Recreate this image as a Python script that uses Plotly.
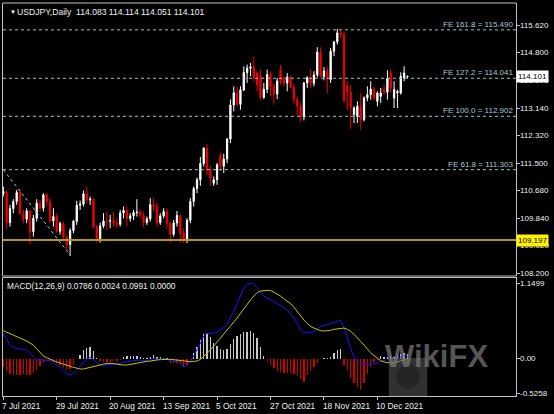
import pandas as pd
import plotly.graph_objects as go

# ---------------- data ----------------
dates = [d.strftime("%Y-%m-%d") for d in pd.bdate_range("2021-07-07", "2021-12-23")]

open_ = [110.58,110.63,109.72,110.14,110.35,110.62,109.98,109.82,110.07,109.45,
         109.85,110.30,110.15,110.55,110.35,109.77,109.90,109.46,109.69,109.29,
         109.06,109.48,109.76,110.24,110.27,110.58,110.40,110.42,109.59,109.24,
         109.62,109.77,109.76,109.78,109.70,109.67,110.01,110.08,109.84,109.92,
         110.02,110.03,109.94,109.72,109.83,110.26,110.20,109.72,109.92,110.05,
         109.70,109.37,109.71,109.93,109.40,109.22,109.79,110.35,110.74,111.00,
         111.49,111.95,111.29,110.90,111.00,111.75,111.41,111.62,112.22,113.24,
         113.61,113.26,113.69,114.21,114.34,114.38,114.20,114.10,113.47,113.71,
         114.15,113.80,113.57,114.30,114.05,113.90,114.08,113.78,113.40,113.21,
         112.88,113.90,114.06,113.89,114.14,114.82,114.09,114.26,114.00,114.85,
         115.13,115.40,115.36,113.80,113.62,112.95,112.90,113.20,112.80,113.45,
         113.55,113.72,113.35,113.50,113.70,113.62,114.20,113.45,113.60,113.60,
         114.05,114.083]
high = [110.80,110.69,110.25,110.42,110.70,110.72,110.10,110.15,110.10,109.95,
        110.42,110.40,110.60,110.60,110.45,110.15,110.00,109.75,109.75,109.35,
        109.55,109.80,110.37,110.38,110.68,110.80,110.50,110.45,109.65,109.72,
        110.00,110.05,109.95,110.05,109.85,110.10,110.20,110.20,110.00,110.10,
        110.42,110.10,110.05,109.90,110.45,110.45,110.30,110.00,110.15,110.15,
        109.75,109.80,110.07,109.95,109.55,109.85,110.45,110.80,111.07,111.68,
        111.97,112.08,111.42,111.10,111.50,111.80,111.78,112.25,113.41,113.80,
        113.80,113.80,114.40,114.45,114.50,114.70,114.25,114.30,113.90,114.30,
        114.25,113.90,114.05,114.44,114.10,114.20,114.12,113.88,113.50,113.30,
        113.93,114.10,114.30,114.25,114.97,114.97,114.38,114.38,114.95,115.16,
        115.52,115.50,115.45,113.95,113.84,113.20,113.35,113.60,113.50,113.80,
        113.95,113.80,113.65,113.75,113.85,114.28,114.30,113.95,113.70,114.22,
        114.40,114.114]
low = [110.50,109.53,109.60,110.00,110.25,109.95,109.70,109.70,109.07,109.30,
       109.75,110.05,110.05,110.22,109.70,109.60,109.40,109.36,109.20,108.90,
       108.72,109.40,109.65,110.10,110.20,110.30,110.25,109.55,109.12,109.12,
       109.55,109.50,109.55,109.60,109.55,109.60,109.85,109.60,109.75,109.80,
       109.90,109.85,109.58,109.65,109.75,110.05,109.60,109.65,109.85,109.55,
       109.12,109.30,109.60,109.12,109.11,109.10,109.70,110.20,110.60,110.82,
       111.40,111.14,110.82,110.82,110.85,111.25,111.20,111.50,112.10,113.05,
       113.20,113.10,113.65,113.90,114.10,113.95,113.65,113.40,113.42,113.60,
       113.50,113.25,113.42,113.85,113.80,113.65,113.75,113.28,112.95,112.73,
       112.78,113.75,113.75,113.80,114.07,114.08,113.98,113.59,113.90,114.70,
       115.05,115.25,113.30,113.08,112.53,112.70,112.70,112.50,112.75,113.35,
       113.40,113.38,113.20,113.30,113.55,113.40,113.60,113.15,113.15,113.55,
       113.95,114.051]
close = [110.65,109.72,110.14,110.35,110.62,109.98,109.82,110.07,109.45,109.85,
         110.30,110.15,110.55,110.35,109.77,109.90,109.46,109.69,109.29,109.06,
         109.48,109.76,110.24,110.27,110.58,110.40,110.42,109.59,109.24,109.62,
         109.77,109.76,109.78,109.70,109.67,110.01,110.08,109.84,109.92,110.02,
         110.03,109.94,109.72,109.83,110.26,110.20,109.72,109.92,110.05,109.70,
         109.37,109.71,109.93,109.40,109.22,109.79,110.35,110.74,111.00,111.49,
         111.95,111.29,111.05,111.00,111.45,111.41,111.62,112.22,113.24,113.61,
         113.26,113.69,114.21,114.34,114.38,114.05,113.85,113.47,113.71,114.15,
         113.80,113.57,113.96,113.95,113.90,114.08,113.78,113.40,113.21,112.88,
         113.90,114.06,113.89,114.14,114.82,114.09,114.26,114.00,114.85,115.13,
         115.40,115.36,113.38,113.62,113.17,113.15,113.20,112.80,113.45,113.55,
         113.72,113.46,113.60,113.60,113.62,114.04,113.75,113.70,113.65,114.10,
         114.20,114.101]

macd_main = [0.386,0.285,0.208,0.173,0.157,0.147,0.142,0.132,0.081,0.030,
             -0.020,-0.020,-0.020,-0.020,-0.030,-0.061,-0.097,-0.132,-0.183,-0.234,
             -0.249,-0.224,-0.173,-0.112,-0.046,0.000,0.020,-0.010,-0.071,-0.097,
             -0.102,-0.097,-0.097,-0.091,-0.081,-0.071,-0.056,-0.051,-0.041,-0.030,
             -0.020,-0.025,-0.036,-0.030,-0.010,0.000,-0.005,0.000,0.000,-0.005,
             -0.036,-0.041,-0.036,-0.071,-0.122,-0.102,-0.046,0.041,0.132,0.234,
             0.345,0.386,0.386,0.386,0.406,0.437,0.478,0.528,0.615,0.716,
             0.843,0.970,1.072,1.133,1.148,1.138,1.087,1.021,0.955,0.919,
             0.894,0.869,0.843,0.813,0.782,0.742,0.691,0.625,0.538,0.437,
             0.396,0.396,0.396,0.411,0.457,0.488,0.508,0.518,0.538,0.554,
             0.574,0.589,0.478,0.310,0.157,0.030,-0.036,-0.071,-0.086,-0.086,
             -0.086,-0.076,-0.061,-0.041,-0.025,-0.010,0.000,0.000,0.015,0.025,
             0.041,0.051]
macd_signal = [0.427,0.406,0.386,0.361,0.340,0.320,0.295,0.269,0.239,0.208,
               0.152,0.091,0.041,0.015,-0.010,-0.036,-0.051,-0.066,-0.086,-0.102,
               -0.117,-0.132,-0.147,-0.157,-0.157,-0.147,-0.132,-0.122,-0.112,-0.097,
               -0.081,-0.071,-0.071,-0.076,-0.086,-0.091,-0.097,-0.097,-0.086,-0.076,
               -0.066,-0.056,-0.046,-0.041,-0.036,-0.025,-0.020,-0.015,-0.010,-0.010,
               -0.010,-0.015,-0.020,-0.030,-0.041,-0.046,-0.046,-0.041,-0.036,-0.010,
               0.030,0.081,0.132,0.193,0.254,0.310,0.371,0.432,0.488,0.549,
               0.620,0.691,0.762,0.833,0.894,0.955,1.006,1.031,1.041,1.041,
               1.041,1.016,0.991,0.955,0.914,0.879,0.838,0.787,0.716,0.650,
               0.589,0.538,0.493,0.467,0.442,0.427,0.422,0.422,0.432,0.447,
               0.457,0.467,0.467,0.447,0.417,0.371,0.325,0.264,0.208,0.147,
               0.091,0.046,0.005,-0.030,-0.051,-0.061,-0.066,-0.061,-0.051,-0.036,
               -0.020,-0.005]
macd_hist = [-0.122,-0.183,-0.234,-0.249,-0.254,-0.249,-0.239,-0.254,-0.244,-0.224,
             -0.173,-0.112,-0.061,-0.036,-0.036,-0.046,-0.071,-0.097,-0.147,-0.173,
             -0.163,-0.097,-0.010,0.056,0.132,0.168,0.183,0.117,0.005,-0.041,
             -0.051,-0.046,-0.046,-0.041,-0.036,-0.020,0.030,0.041,0.041,0.046,
             0.041,0.030,0.015,0.010,0.030,0.051,0.030,0.020,0.015,0.005,
             -0.061,-0.071,-0.061,-0.086,-0.122,-0.097,-0.020,0.091,0.183,0.284,
             0.376,0.386,0.325,0.244,0.193,0.142,0.132,0.147,0.218,0.295,
             0.345,0.376,0.401,0.411,0.422,0.396,0.310,0.183,0.041,-0.046,
             -0.097,-0.147,-0.183,-0.208,-0.224,-0.224,-0.224,-0.234,-0.264,-0.315,
             -0.351,-0.249,-0.183,-0.122,-0.061,-0.005,0.005,0.005,0.030,0.081,
             0.132,0.142,-0.097,-0.173,-0.300,-0.376,-0.427,-0.478,-0.376,-0.234,
             -0.122,-0.046,-0.020,0.041,0.030,0.020,0.041,0.030,0.056,0.071,
             0.081,0.071]

fe_levels = [115.490, 114.041, 112.902, 111.303]
fe_labels = ["FE 161.8 = 115.490", "FE 127.2 = 114.041", "FE 100.0 = 112.902", "FE 61.8 = 111.303"]
support_level = 109.197
trend_dates = ["2021-07-07", "2021-08-04"]
trend_prices = [111.303, 108.75]

price_ticks = [115.620, 114.800, 113.970, 113.140, 112.320, 111.500, 110.680, 109.840, 109.020, 108.200]
macd_ticks = [1.1499, 0.0, -0.5258]
macd_tick_text = ["1.1499", "0.00", "-0.5258"]
date_tick_labels = ["7 Jul 2021", "29 Jul 2021", "20 Aug 2021", "13 Sep 2021",
                    "5 Oct 2021", "27 Oct 2021", "18 Nov 2021", "10 Dec 2021"]
date_tick_dates = ["2021-07-07", "2021-07-29", "2021-08-20", "2021-09-13",
                   "2021-10-05", "2021-10-27", "2021-11-18", "2021-12-10"]

title_text = "USDJPY,Daily  114.083 114.114 114.051 114.101"
macd_text = "MACD(12,26,9) 0.0786 0.0024 0.0991 0.0000"
last_price = 114.101

# ---------------- figure ----------------
idx = list(range(len(dates)))
pos = {d: i for i, d in enumerate(dates)}

FONT = "Liberation Sans, Arial, sans-serif"
AX = "#C0C0C0"
FE_COL = "#9CC2C6"
TXT = "#F0F0F0"

fig = go.Figure()

fig.add_trace(go.Candlestick(
    x=idx, open=open_, high=high, low=low, close=close,
    increasing=dict(line=dict(color="#FFFFFF", width=1), fillcolor="#FFFFFF"),
    decreasing=dict(line=dict(color="#F00000", width=1), fillcolor="#F00000"),
    whiskerwidth=0, hoverinfo="skip", showlegend=False, xaxis="x", yaxis="y"))

fig.add_trace(go.Scatter(x=[pos[d] for d in trend_dates], y=trend_prices, mode="lines",
                         line=dict(color=FE_COL, width=1, dash="dot"),
                         hoverinfo="skip", showlegend=False, xaxis="x", yaxis="y"))

hist_colors = ["#C8C8C8" if v >= 0 else "#D00000" for v in macd_hist]
fig.add_trace(go.Bar(x=idx, y=macd_hist, marker=dict(color=hist_colors, line=dict(width=0)),
                     width=0.4, hoverinfo="skip", showlegend=False, xaxis="x", yaxis="y2"))
fig.add_trace(go.Scatter(x=idx, y=macd_main, mode="lines", line=dict(color="#1414FF", width=1),
                         hoverinfo="skip", showlegend=False, xaxis="x", yaxis="y2"))
fig.add_trace(go.Scatter(x=idx, y=macd_signal, mode="lines", line=dict(color="#C8C400", width=1),
                         hoverinfo="skip", showlegend=False, xaxis="x", yaxis="y2"))

shapes = []
for lv in fe_levels:
    shapes.append(dict(type="line", xref="paper", x0=0, x1=1, yref="y", y0=lv, y1=lv,
                       line=dict(color=FE_COL, width=1, dash="dot")))
shapes.append(dict(type="line", xref="paper", x0=0, x1=1, yref="y", y0=support_level, y1=support_level,
                   line=dict(color="#B89A00", width=2)))
main_bottom = 0.3053
shapes.append(dict(type="line", xref="paper", yref="paper", x0=0, x1=1, y0=1, y1=1,
                   line=dict(color=AX, width=1)))
shapes.append(dict(type="line", xref="paper", yref="paper", x0=0, x1=1, y0=main_bottom, y1=main_bottom,
                   line=dict(color=AX, width=1)))
# watermark logo
shapes.append(dict(type="rect", xref="paper", yref="paper", x0=0.752, x1=0.827, y0=0.0, y1=0.097,
                   fillcolor="rgba(90,90,90,0.55)", line=dict(width=0), layer="above"))
shapes.append(dict(type="circle", xref="paper", yref="paper", x0=0.766, x1=0.813, y0=0.018, y1=0.08,
                   fillcolor="rgba(30,30,30,0.6)", line=dict(width=0), layer="above"))

ann = []
for lv, lab in zip(fe_levels, fe_labels):
    ann.append(dict(xref="paper", x=1, xanchor="right", xshift=-1, yref="y", y=lv,
                    yanchor="bottom", yshift=-1, text=lab, showarrow=False,
                    font=dict(family=FONT, size=8, color="#A8C8D4")))
for v in price_ticks:
    ann.append(dict(xref="paper", x=1, xanchor="left", xshift=2, yref="y", y=v,
                    text=f"{v:.3f}", showarrow=False,
                    font=dict(family=FONT, size=8, color=TXT)))
for v, t in zip(macd_ticks, macd_tick_text):
    ann.append(dict(xref="paper", x=1, xanchor="left", xshift=2, yref="y2", y=v,
                    text=t, showarrow=False,
                    font=dict(family=FONT, size=8, color=TXT)))
ann.append(dict(xref="paper", x=1, xanchor="left", xshift=0, yref="y", y=last_price,
                text=f"{last_price:.3f}", showarrow=False, bgcolor="#FFFFFF", borderpad=1,
                font=dict(family=FONT, size=8, color="#000000")))
ann.append(dict(xref="paper", x=1, xanchor="left", xshift=0, yref="y", y=support_level,
                text=f"{support_level:.3f}", showarrow=False, bgcolor="#FFF200", borderpad=1,
                font=dict(family=FONT, size=8, color="#000000")))
ann.append(dict(xref="paper", x=0, xanchor="left", xshift=5, yref="paper", y=1, yanchor="top",
                yshift=-4, text="\u25BC", showarrow=False,
                font=dict(family=FONT, size=6, color="#FFFFFF")))
ann.append(dict(xref="paper", x=0, xanchor="left", xshift=12, yref="paper", y=1, yanchor="top",
                yshift=-2, text=title_text, showarrow=False,
                font=dict(family=FONT, size=8.6, color=TXT)))
ann.append(dict(xref="paper", x=0, xanchor="left", xshift=2, yref="paper", y=0.3003, yanchor="top",
                yshift=-1, text=macd_text, showarrow=False,
                font=dict(family=FONT, size=8.3, color=TXT)))
for d, lab in zip(date_tick_dates, date_tick_labels):
    ann.append(dict(xref="x", x=pos[d], xanchor="left", xshift=-3, yref="paper", y=0, yanchor="top",
                    yshift=-3, text=lab, showarrow=False,
                    font=dict(family=FONT, size=8.3, color=TXT)))
ann.append(dict(xref="paper", x=0.949, yref="paper", y=0.05, text="<b>WikiFX</b>", showarrow=False,
                font=dict(family=FONT, size=31, color="rgba(125,125,125,0.7)")))

fig.update_layout(
    width=554, height=414,
    margin=dict(l=3, r=38, t=3, b=18, pad=0),
    paper_bgcolor="#000000", plot_bgcolor="#000000",
    showlegend=False, bargap=0, boxgap=0.45, hovermode=False,
    shapes=shapes, annotations=ann,
    xaxis=dict(range=[-0.09, 153.5], anchor="y2", showgrid=False, zeroline=False,
               showticklabels=False, ticks="outside", ticklen=3, tickcolor=AX,
               tickvals=[pos[d] for d in date_tick_dates],
               showline=True, linecolor=AX, linewidth=1, mirror=True,
               rangeslider=dict(visible=False)),
    yaxis=dict(domain=[main_bottom, 1], range=[108.12, 116.294], side="right", anchor="x",
               showgrid=False, zeroline=False, ticks="outside", ticklen=3, tickcolor=AX,
               tickvals=price_ticks, showticklabels=False,
               showline=True, linecolor=AX, linewidth=1, mirror=True),
    yaxis2=dict(domain=[0, 0.3003], range=[-0.569, 1.230], side="right", anchor="x",
                showgrid=False, zeroline=False, ticks="outside", ticklen=3, tickcolor=AX,
                tickvals=macd_ticks, showticklabels=False,
                showline=True, linecolor=AX, linewidth=1, mirror=True),
)

fig.write_html("out.html", config={"displayModeBar": False, "staticPlot": True},
               post_script="document.body.style.margin='0px';document.body.style.background='#000';")
